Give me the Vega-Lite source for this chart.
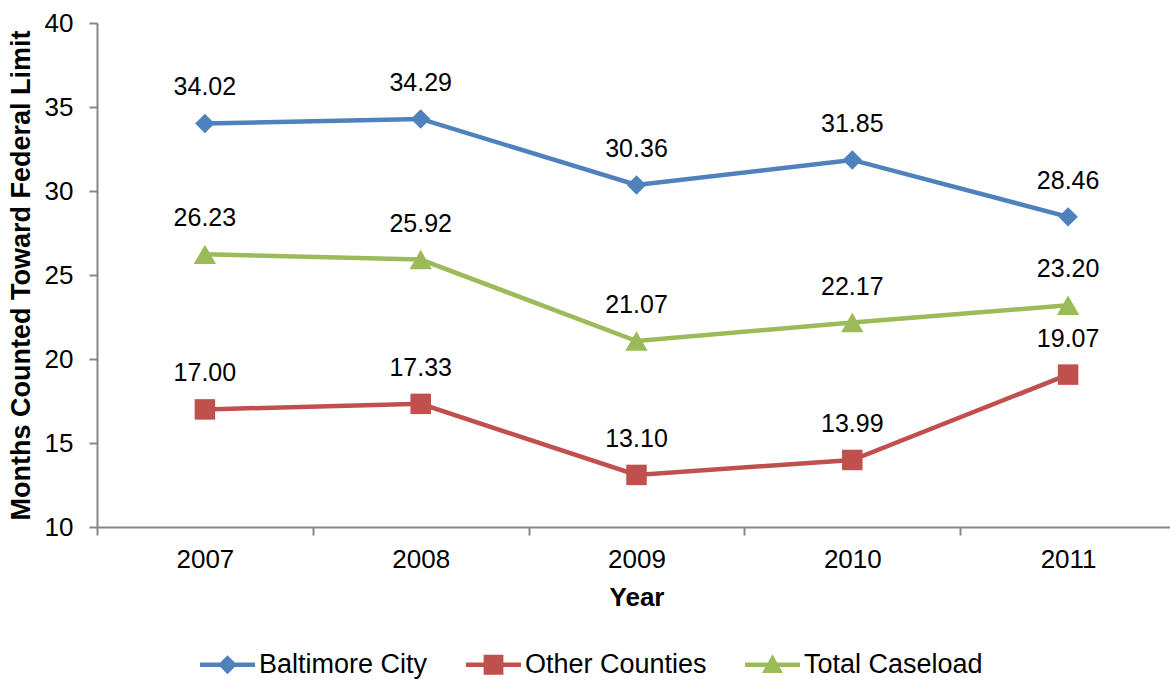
{
  "$schema": "https://vega.github.io/schema/vega-lite/v6.json",
  "autosize": {"type": "none"},
  "padding": {"left": 97, "top": 23, "right": 0, "bottom": 154},
  "width": 1079,
  "height": 504,
  "background": "white",
  "config": {
    "view": {"stroke": null},
    "font": "Liberation Sans",
    "axis": {"grid": false, "domainColor": "#868686", "tickColor": "#868686", "labelColor": "#000000", "titleColor": "#000000", "labelFont": "Liberation Sans", "titleFont": "Liberation Sans", "domainWidth": 2, "tickWidth": 2}
  },
  "data": {
    "values": [
      {"year": "2007", "series": "Baltimore City", "value": 34.02},
      {"year": "2008", "series": "Baltimore City", "value": 34.29},
      {"year": "2009", "series": "Baltimore City", "value": 30.36},
      {"year": "2010", "series": "Baltimore City", "value": 31.85},
      {"year": "2011", "series": "Baltimore City", "value": 28.46},
      {"year": "2007", "series": "Other Counties", "value": 17.00},
      {"year": "2008", "series": "Other Counties", "value": 17.33},
      {"year": "2009", "series": "Other Counties", "value": 13.10},
      {"year": "2010", "series": "Other Counties", "value": 13.99},
      {"year": "2011", "series": "Other Counties", "value": 19.07},
      {"year": "2007", "series": "Total Caseload", "value": 26.23},
      {"year": "2008", "series": "Total Caseload", "value": 25.92},
      {"year": "2009", "series": "Total Caseload", "value": 21.07},
      {"year": "2010", "series": "Total Caseload", "value": 22.17},
      {"year": "2011", "series": "Total Caseload", "value": 23.20}
    ]
  },
  "encoding": {
    "x": {
      "field": "year", "type": "ordinal",
      "scale": {"type": "band", "paddingInner": 0, "paddingOuter": 0},
      "axis": {"title": "Year", "labelAngle": 0, "tickBand": "extent", "tickSize": 8, "labelPadding": 11, "labelFontSize": 26, "titleFontSize": 26, "titleFontWeight": "bold", "titlePadding": 12}
    },
    "y": {
      "field": "value", "type": "quantitative",
      "scale": {"domain": [10, 40], "nice": false, "zero": false},
      "axis": {"title": "Months Counted Toward Federal Limit", "values": [10, 15, 20, 25, 30, 35, 40], "tickSize": 8, "labelPadding": 16, "labelFontSize": 26, "titleFontSize": 27, "titleFontWeight": "bold", "titlePadding": 9}
    },
    "color": {
      "field": "series", "type": "nominal",
      "scale": {"domain": ["Baltimore City", "Other Counties", "Total Caseload"], "range": ["#4F81BD", "#C0504D", "#9BBB59"]},
      "legend": {
        "title": null, "orient": "none", "direction": "horizontal", "legendX": 103, "legendY": 614,
        "symbolSize": 3025, "labelFontSize": 27, "labelColor": "#000000", "labelOffset": 4, "columnPadding": 38, "labelLimit": 0,
        "symbolType": "M-1,-0.08L1,-0.08L1,0.08L-1,0.08Z M0,-0.345L0.345,0L0,0.345L-0.345,0Z",
        "encode": {
          "symbols": {
            "update": {
              "shape": {"signal": "datum.value === 'Baltimore City' ? 'M-1,-0.08L1,-0.08L1,0.08L-1,0.08Z M0,-0.345L0.345,0L0,0.345L-0.345,0Z' : datum.value === 'Other Counties' ? 'M-1,-0.08L1,-0.08L1,0.08L-1,0.08Z M-0.36,-0.36L0.36,-0.36L0.36,0.36L-0.36,0.36Z' : 'M-1,-0.08L1,-0.08L1,0.08L-1,0.08Z M0,-0.38L0.38,0.3L-0.38,0.3Z'"},
              "size": {"value": 3025},
              "fill": {"signal": "datum.value === 'Baltimore City' ? '#4F81BD' : datum.value === 'Other Counties' ? '#C0504D' : '#9BBB59'"},
              "stroke": {"value": "transparent"},
              "strokeWidth": {"value": 0},
              "opacity": {"value": 1}
            }
          }
        }
      }
    }
  },
  "layer": [
    {"mark": {"type": "line", "strokeWidth": 4.5}},
    {
      "transform": [{"filter": "datum.series === 'Baltimore City'"}],
      "mark": {"type": "point", "filled": true, "opacity": 1, "shape": "diamond", "size": 380}
    },
    {
      "transform": [{"filter": "datum.series === 'Other Counties'"}],
      "mark": {"type": "point", "filled": true, "opacity": 1, "shape": "square", "size": 420}
    },
    {
      "transform": [{"filter": "datum.series === 'Total Caseload'"}],
      "mark": {"type": "point", "filled": true, "opacity": 1, "shape": "triangle-up", "size": 500}
    },
    {
      "mark": {"type": "text", "dy": -36, "fontSize": 25, "color": "#000000", "font": "Liberation Sans"},
      "encoding": {"text": {"field": "value", "type": "quantitative", "format": ".2f"}, "color": {"value": "#000000"}}
    }
  ]
}
